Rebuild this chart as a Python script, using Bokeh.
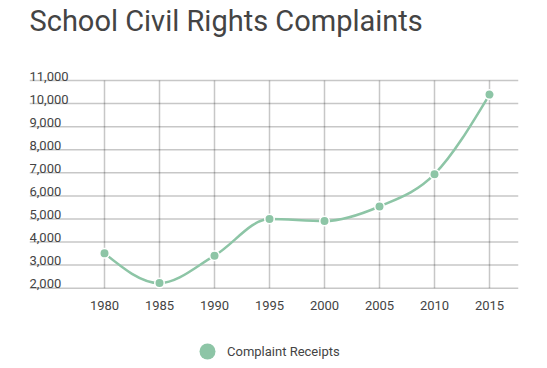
from bokeh.plotting import figure
from bokeh.models import Legend, LegendItem
from bokeh.embed import file_html
from bokeh.resources import INLINE
from bokeh.core.properties import value

title_text = "School Civil Rights Complaints"
series_name = "Complaint Receipts"
years = [1980, 1985, 1990, 1995, 2000, 2005, 2010, 2015]
x_labels = ["1980", "1985", "1990", "1995", "2000", "2005", "2010", "2015"]
receipts = [3510, 2220, 3410, 5000, 4910, 5540, 6940, 10390]
y_ticks = [2000, 3000, 4000, 5000, 6000, 7000, 8000, 9000, 10000, 11000]
y_labels = ["2,000", "3,000", "4,000", "5,000", "6,000", "7,000", "8,000", "9,000", "10,000", "11,000"]

GREEN = "#8dc5a6"
TEXT = "#444444"
FONT = "Roboto"

# layout geometry (pixels); the frame covers the whole canvas below/right of LEFT
W, H = 540, 366
LEFT, RIGHT = 29, 22
PX_PER_YEAR = 11.0
PX_PER_UNIT = 23.08 / 1000.0
BASE_PX = 287.7          # pixel row of the lowest gridline
frame_w = W - LEFT - RIGHT
frame_h = H
x_start = 1980 - (104 - LEFT) / PX_PER_YEAR
x_end = x_start + frame_w / PX_PER_YEAR
y_end = min(y_ticks) + BASE_PX / PX_PER_UNIT
y_start = y_end - frame_h / PX_PER_UNIT

p = figure(width=W, height=H, output_backend="svg", toolbar_location=None,
           x_range=(x_start, x_end), y_range=(y_start, y_end),
           x_axis_location=None, y_axis_location=None,
           min_border_left=LEFT, min_border_right=RIGHT,
           min_border_top=0, min_border_bottom=0, tools="")
p.outline_line_color = None
p.background_fill_color = "white"
p.border_fill_color = "white"
p.xgrid.visible = False
p.ygrid.visible = False

# title
p.text(x=[x_start], y=[y_end], text=[title_text],
       text_font=value(FONT), text_font_size="29px", text_color=TEXT,
       text_align="left", text_baseline="alphabetic", y_offset=20)

# grid lines
p.segment(x0=[x_start] * len(y_ticks), x1=[x_end] * len(y_ticks), y0=y_ticks, y1=y_ticks,
          line_color="black", line_alpha=0.22, line_width=1.5)
p.segment(x0=years, x1=years, y0=[min(y_ticks)] * len(years), y1=[max(y_ticks)] * len(years),
          line_color="black", line_alpha=0.22, line_width=1.5)

# x labels
p.text(x=years, y=[min(y_ticks)] * len(years), text=x_labels,
       text_font=value(FONT), text_font_size="13px", text_color=TEXT,
       text_align="center", text_baseline="alphabetic", y_offset=17)

# y labels (inside, above grid lines)
p.text(x=[x_start] * len(y_ticks), y=y_ticks, text=y_labels,
       text_font=value(FONT), text_font_size="13px", text_color=TEXT,
       text_align="left", text_baseline="alphabetic", y_offset=-4.4)

# monotone-x bezier curve
n = len(years)
sec = [(receipts[i + 1] - receipts[i]) / (years[i + 1] - years[i]) for i in range(n - 1)]
h = [years[i + 1] - years[i] for i in range(n - 1)]
def sign(v):
    return (v > 0) - (v < 0)
t = [0.0] * n
for i in range(1, n - 1):
    s0, s1 = sec[i - 1], sec[i]
    h0, h1 = h[i - 1], h[i]
    pp = (s0 * h1 + s1 * h0) / (h0 + h1)
    t[i] = (sign(s0) + sign(s1)) * min(abs(s0), abs(s1), 0.5 * abs(pp))
t[0] = (3 * sec[0] - t[1]) / 2
t[-1] = (3 * sec[-1] - t[-2]) / 2
bx0, by0, bx1, by1, cx0, cy0, cx1, cy1 = [], [], [], [], [], [], [], []
for i in range(n - 1):
    dx = (years[i + 1] - years[i]) / 3
    bx0.append(years[i]); by0.append(receipts[i])
    bx1.append(years[i + 1]); by1.append(receipts[i + 1])
    cx0.append(years[i] + dx); cy0.append(receipts[i] + dx * t[i])
    cx1.append(years[i + 1] - dx); cy1.append(receipts[i + 1] - dx * t[i + 1])
p.bezier(x0=bx0, y0=by0, x1=bx1, y1=by1, cx0=cx0, cy0=cy0, cx1=cx1, cy1=cy1,
         line_color=GREEN, line_width=2.5)

p.scatter(x=years, y=receipts, size=9.5, fill_color=GREEN, line_color="white", line_width=1.5)

# legend swatch renderer (no visible point of its own)
nan = float("nan")
dummy = p.scatter(x=[nan], y=[nan], size=16, fill_color=GREEN, line_color=None)
legend = Legend(items=[LegendItem(label=series_name, renderers=[dummy])],
                location=(158, -5), orientation="horizontal",
                glyph_width=40, glyph_height=40, label_height=40, label_standoff=0,
                padding=0, margin=0, spacing=0,
                border_line_color=None, background_fill_alpha=0,
                label_text_font=FONT, label_text_font_size="13px", label_text_color=TEXT)
p.add_layout(legend, "center")

open("out.html", "w").write(file_html(p, INLINE))
